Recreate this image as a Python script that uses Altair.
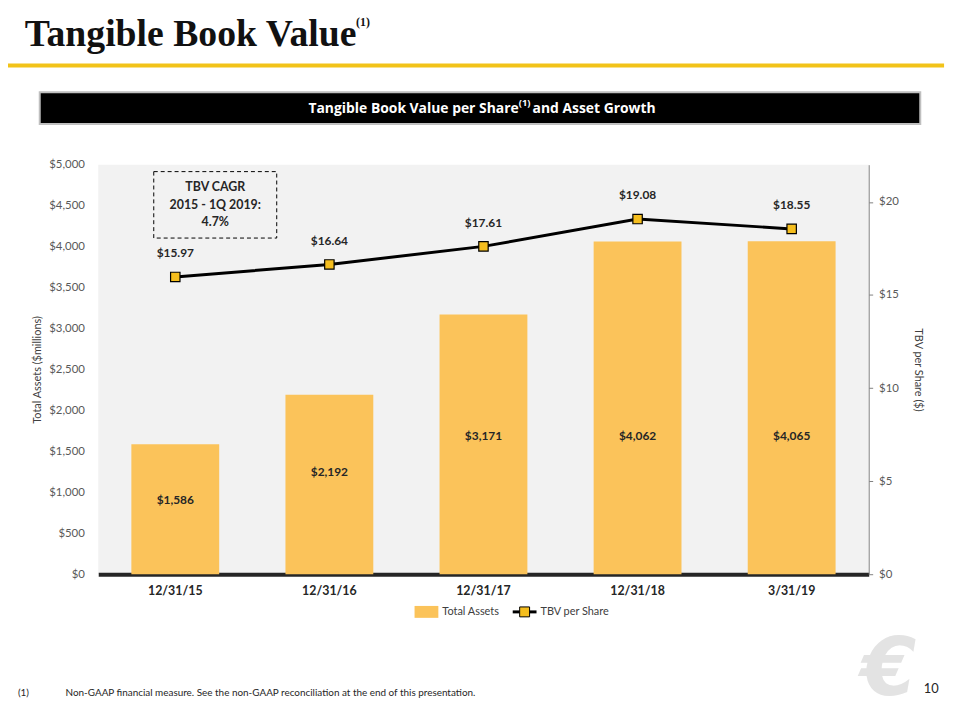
import altair as alt
import pandas as pd

# ---- data ----
periods = ["12/31/15", "12/31/16", "12/31/17", "12/31/18", "3/31/19"]
total_assets = [1586, 2192, 3171, 4062, 4065]
tbv_per_share = [15.97, 16.64, 17.61, 19.08, 18.55]
asset_labels = ["$1,586", "$2,192", "$3,171", "$4,062", "$4,065"]
tbv_labels = ["$15.97", "$16.64", "$17.61", "$19.08", "$18.55"]

df = pd.DataFrame({
    "period": periods,
    "assets": total_assets,
    "tbv": tbv_per_share,
    "alab": asset_labels,
    "tlab": tbv_labels,
})

W, H = 777, 413
PL, PT = 91, 155
PR = 952 - PL - W
PB = 710 - PT - H

def px(x):
    return x - 99

def py(y):
    return y - 163

BAR = "#FBC35A"
MARK = "#F5BE1E"
FONT = "Lato"
DARK = "#262626"

xenc = alt.X("period:N", sort=periods,
             scale=alt.Scale(paddingInner=0.43, paddingOuter=0.215),
             axis=alt.Axis(title=None, labelAngle=0, labelFont=FONT, labelFontSize=12.5,
                           labelFontWeight="bold", labelColor=DARK, labelPadding=10,
                           domainColor=DARK, domainWidth=4, ticks=False, grid=False))

yleft = alt.Scale(domain=[0, 5000], nice=False)
yright = alt.Scale(domain=[0, 22], nice=False)

bars = alt.Chart(df).mark_bar(color=BAR).encode(
    x=xenc,
    y=alt.Y("assets:Q", scale=yleft,
            axis=alt.Axis(title="Total Assets ($millions)", values=list(range(0, 5001, 500)),
                          format="$,.0f", labelFont=FONT, labelFontSize=11.5, labelColor="#595959",
                          titleFont=FONT, titleFontSize=11, titleFontWeight="normal",
                          titleColor="#404040", titlePadding=6, domain=False, ticks=False,
                          grid=False, labelPadding=14)),
)
bar_text = alt.Chart(df).transform_calculate(
    lp="min(datum.assets * 0.57, 1690)"
).mark_text(font=FONT, fontSize=12, fontWeight="bold", color=DARK).encode(
    x=alt.X("period:N", sort=periods),
    y=alt.Y("lp:Q", scale=yleft, axis=None),
    text="alab:N",
)

line = alt.Chart(df).mark_line(color="black", strokeWidth=3).encode(
    x=alt.X("period:N", sort=periods),
    y=alt.Y("tbv:Q", scale=yright,
            axis=alt.Axis(orient="right", title="TBV per Share ($)", values=[0, 5, 10, 15, 20],
                          format="$.0f", labelFont=FONT, labelFontSize=11.5, labelColor="#595959",
                          titleFont=FONT, titleFontSize=11, titleFontWeight="normal",
                          titleColor="#404040", titlePadding=14, domainColor="#808080",
                          domainWidth=1, tickColor="#808080", tickSize=4, grid=False,
                          labelPadding=6)),
)
points = alt.Chart(df).mark_point(shape="square", filled=True, fill=MARK, stroke="black",
                                  strokeWidth=1.2, size=90, opacity=1).encode(
    x=alt.X("period:N", sort=periods),
    y=alt.Y("tbv:Q", scale=yright, axis=None),
)
line_text = alt.Chart(df).mark_text(font=FONT, fontSize=12, fontWeight="bold", color=DARK,
                                    dy=-24).encode(
    x=alt.X("period:N", sort=periods),
    y=alt.Y("tbv:Q", scale=yright, axis=None),
    text="tlab:N",
)

one = pd.DataFrame({"a": [0]})

def rect(x1, y1, x2, y2, **kw):
    return alt.Chart(one).mark_rect(**kw).encode(
        x=alt.value(px(x1)), x2=alt.value(px(x2)), y=alt.value(py(y1)), y2=alt.value(py(y2)))

def txt(s, x, y, **kw):
    return alt.Chart(pd.DataFrame({"t": [s]})).mark_text(**kw).encode(
        x=alt.value(px(x)), y=alt.value(py(y)), text="t:N")

HF = "Open Sans"
decor = [
    rect(8, 61, 952, 65, color="#F2C319"),
    txt("Tangible Book Value", 25, 43, font="Liberation Serif", fontSize=38, fontWeight="bold",
        color="#111111", align="left", baseline="alphabetic"),
    txt("(1)", 359, 23, font="Liberation Serif", fontSize=12, fontWeight="bold",
        color="#111111", align="left", baseline="alphabetic"),
    rect(40, 90, 928, 122, color="black", stroke="#BFBFBF", strokeWidth=2),
    txt("Tangible Book Value per Share", 523, 107, font=HF, fontSize=14, fontWeight="bold",
        color="white", align="right", baseline="middle"),
    txt("(1)", 529, 101, font=HF, fontSize=9.5, fontWeight="bold",
        color="white", align="center", baseline="middle"),
    txt("and Asset Growth", 537, 107, font=HF, fontSize=14, fontWeight="bold",
        color="white", align="left", baseline="middle"),
    rect(155, 170, 279, 237, fill="transparent", stroke="black", strokeWidth=1,
         strokeDash=[4, 3]),
    txt("TBV CAGR", 217, 186, font=FONT, fontSize=12.5, fontWeight="bold", color=DARK,
        align="center", baseline="middle"),
    txt("2015 - 1Q 2019:", 217, 204, font=FONT, fontSize=12.5, fontWeight="bold", color=DARK,
        align="center", baseline="middle"),
    txt("4.7%", 217, 221, font=FONT, fontSize=12.5, fontWeight="bold", color=DARK,
        align="center", baseline="middle"),
    rect(418, 608, 442, 620, color=BAR),
    txt("Total Assets", 446, 614, font=FONT, fontSize=11, color="#404040",
        align="left", baseline="middle"),
    rect(517, 612.5, 541, 615.5, color="black"),
    rect(524, 609, 534, 619, fill=MARK, stroke="black", strokeWidth=1),
    txt("TBV per Share", 545, 614, font=FONT, fontSize=11, color="#404040",
        align="left", baseline="middle"),
    txt("(1)", 18, 696, font=FONT, fontSize=10, color="#262626", align="left",
        baseline="middle"),
    txt("Non-GAAP financial measure. See the non-GAAP reconciliation at the end of this presentation.",
        66, 696, font=FONT, fontSize=10, color="#262626", align="left", baseline="middle"),
    txt("€", 896, 674, font="DejaVu Sans", fontSize=80, fontWeight="bold", fontStyle="italic",
        color="#E3E3E3", align="center", baseline="middle"),
    txt("10", 939, 692, font=FONT, fontSize=13, color="#262626", align="center",
        baseline="middle"),
]

chart = alt.layer(bars, bar_text, line, points, line_text, *decor).resolve_scale(
    y="independent"
).properties(
    width=W, height=H,
    padding={"left": PL, "top": PT, "right": PR, "bottom": PB},
    autosize=alt.AutoSizeParams(type="none"),
    background="white",
).configure_view(fill="#F2F2F2", stroke=None)

chart.save("out.html", embed_options={"renderer": "svg", "actions": False})
